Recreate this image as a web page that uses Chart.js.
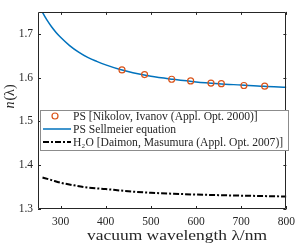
<!DOCTYPE html>
<html>
<head>
<meta charset="utf-8">
<script src="https://cdn.jsdelivr.net/npm/chart.js@4"></script>
<style>
  html, body { margin: 0; padding: 0; background: #fff; }
  #chart { display: block; }
</style>
</head>
<body>
<canvas id="chart" width="301" height="245"></canvas>
<script>
// measured PS refractive index (Nikolov & Ivanov)
const psWavelengths = [436, 486, 546, 588, 633, 656, 706, 752];
const psIndex = [1.6175, 1.6068, 1.5962, 1.5925, 1.5876, 1.5862, 1.5820, 1.5805];

// PS Sellmeier curve
const sellWavelengths = [255, 260, 270, 280, 290, 300, 320, 340, 360, 380, 400, 430, 460, 500, 550, 600, 650, 700, 750, 800];
const sellIndex = [1.759, 1.749, 1.731, 1.716, 1.703, 1.692, 1.673, 1.658, 1.646, 1.637, 1.629, 1.619, 1.611, 1.603, 1.596, 1.590, 1.586, 1.583, 1.580, 1.578];

// water (Daimon & Masumura)
const waterWavelengths = [260, 280, 300, 330, 360, 400, 450, 500, 550, 600, 650, 700, 750, 800];
const waterIndex = [1.372, 1.366, 1.360, 1.354, 1.349, 1.3455, 1.3405, 1.337, 1.3348, 1.333, 1.3316, 1.3305, 1.3295, 1.3285];

const xTicks = [300, 400, 500, 600, 700, 800];
const yTicks = [1.3, 1.4, 1.5, 1.6, 1.7];

const seriesLabels = [
  'PS [Nikolov, Ivanov (Appl. Opt. 2000)]',
  'PS Sellmeier equation',
  'H\u2082O [Daimon, Masumura (Appl. Opt. 2007)]'
];

const FONT = '"Liberation Serif", "DejaVu Serif", serif';
const AXIS_COLOR = '#262626';
const zip = (xs, ys) => xs.map((x, i) => ({ x: x, y: ys[i] }));

// frame, inward ticks, legend box and axis titles
const decorations = {
  id: 'decorations',
  afterDatasetsDraw(chart) {
    const ctx = chart.ctx;
    const a = chart.chartArea;
    const xs = chart.scales.x;
    const ys = chart.scales.y;
    ctx.save();
    ctx.strokeStyle = AXIS_COLOR;
    ctx.lineWidth = 1;
    ctx.beginPath();
    ctx.rect(Math.round(a.left) + 0.5, Math.round(a.top) + 0.5, Math.round(a.right - a.left) - 1, Math.round(a.bottom - a.top) - 1);
    ctx.stroke();
    ctx.beginPath();
    xTicks.forEach(v => {
      const px = Math.round(xs.getPixelForValue(v)) + 0.5;
      ctx.moveTo(px, a.bottom); ctx.lineTo(px, a.bottom - 3);
      ctx.moveTo(px, a.top); ctx.lineTo(px, a.top + 3);
    });
    yTicks.forEach(v => {
      const py = Math.round(ys.getPixelForValue(v)) + 0.5;
      ctx.moveTo(a.left, py); ctx.lineTo(a.left + 3, py);
      ctx.moveTo(a.right, py); ctx.lineTo(a.right - 3, py);
    });
    ctx.stroke();

    // legend
    const lx = 40, ly = 110, lw = 248, lh = 40;
    ctx.fillStyle = '#fff';
    ctx.fillRect(lx, ly, lw, lh);
    ctx.strokeStyle = '#8c8c8c';
    ctx.strokeRect(lx + 0.5, ly + 0.5, lw, lh);
    const rows = [116, 129, 142];
    ctx.font = '11.6px ' + FONT;
    ctx.fillStyle = AXIS_COLOR;
    ctx.textBaseline = 'middle';
    ctx.textAlign = 'left';
    chart.data.datasets.forEach((ds, i) => {
      const y = rows[i];
      if (i === 0) {
        ctx.strokeStyle = ds.borderColor;
        ctx.lineWidth = 1.2;
        ctx.beginPath();
        ctx.arc(55, y, 3, 0, Math.PI * 2);
        ctx.stroke();
      } else {
        ctx.strokeStyle = ds.borderColor;
        ctx.lineWidth = ds.borderWidth;
        ctx.setLineDash(ds.borderDash || []);
        ctx.beginPath();
        ctx.moveTo(43, y); ctx.lineTo(71, y);
        ctx.stroke();
        ctx.setLineDash([]);
      }
      ctx.fillText(ds.label, 73, y + 1);
    });

    // x axis title, stretched to the width it has in the original
    ctx.font = '14px ' + FONT;
    ctx.textBaseline = 'alphabetic';
    ctx.textAlign = 'left';
    const xt = 'vacuum wavelength \u03bb/nm';
    const sx = 180 / ctx.measureText(xt).width;
    ctx.save();
    ctx.translate(87, 240);
    ctx.scale(sx, 1);
    ctx.fillText(xt, 0, 0);
    ctx.restore();

    // y axis title
    ctx.translate(10, 97);
    ctx.rotate(-Math.PI / 2);
    ctx.textBaseline = 'middle';
    ctx.font = 'italic 14px ' + FONT;
    const w1 = ctx.measureText('n').width;
    ctx.font = '14px ' + FONT;
    const w2 = ctx.measureText('(\u03bb)').width;
    ctx.font = 'italic 14px ' + FONT;
    ctx.fillText('n', -(w1 + w2) / 2, 0);
    ctx.font = '14px ' + FONT;
    ctx.fillText('(\u03bb)', -(w1 + w2) / 2 + w1 + 1, 0);
    ctx.restore();
  }
};

new Chart(document.getElementById('chart'), {
  type: 'scatter',
  data: {
    datasets: [
      {
        label: seriesLabels[0],
        data: zip(psWavelengths, psIndex),
        showLine: false,
        pointStyle: 'circle',
        pointRadius: 3,
        pointBorderWidth: 1.2,
        borderColor: '#D95319',
        backgroundColor: 'rgba(0,0,0,0)',
        order: 0
      },
      {
        label: seriesLabels[1],
        data: zip(sellWavelengths, sellIndex),
        showLine: true,
        pointRadius: 0,
        borderColor: '#0072BD',
        borderWidth: 1.5,
        cubicInterpolationMode: 'monotone',
        order: 1
      },
      {
        label: seriesLabels[2],
        data: zip(waterWavelengths, waterIndex),
        showLine: true,
        pointRadius: 0,
        borderColor: '#000',
        borderWidth: 2,
        borderDash: [6, 2, 2, 2],
        cubicInterpolationMode: 'monotone',
        order: 2
      }
    ]
  },
  options: {
    responsive: false,
    animation: false,
    layout: { padding: { top: 1, right: 9, left: 0, bottom: 0 } },
    plugins: { legend: { display: false }, tooltip: { enabled: false } },
    scales: {
      x: {
        type: 'linear',
        min: 250,
        max: 800,
        afterBuildTicks: s => { s.ticks = xTicks.map(v => ({ value: v })); },
        afterFit: s => { s.height = 36; },
        grid: { display: false, drawTicks: false, tickLength: 0 },
        border: { display: false },
        ticks: { color: AXIS_COLOR, font: { family: FONT, size: 11.5 }, padding: 6, maxRotation: 0 }
      },
      y: {
        type: 'linear',
        min: 1.3,
        max: 1.75,
        afterBuildTicks: s => { s.ticks = yTicks.map(v => ({ value: v })); },
        afterFit: s => { s.width = 38; },
        grid: { display: false, drawTicks: false, tickLength: 0 },
        border: { display: false },
        ticks: { color: AXIS_COLOR, font: { family: FONT, size: 11.5 }, padding: 5, callback: v => v.toFixed(1) }
      }
    }
  },
  plugins: [decorations]
});
</script>
</body>
</html>
